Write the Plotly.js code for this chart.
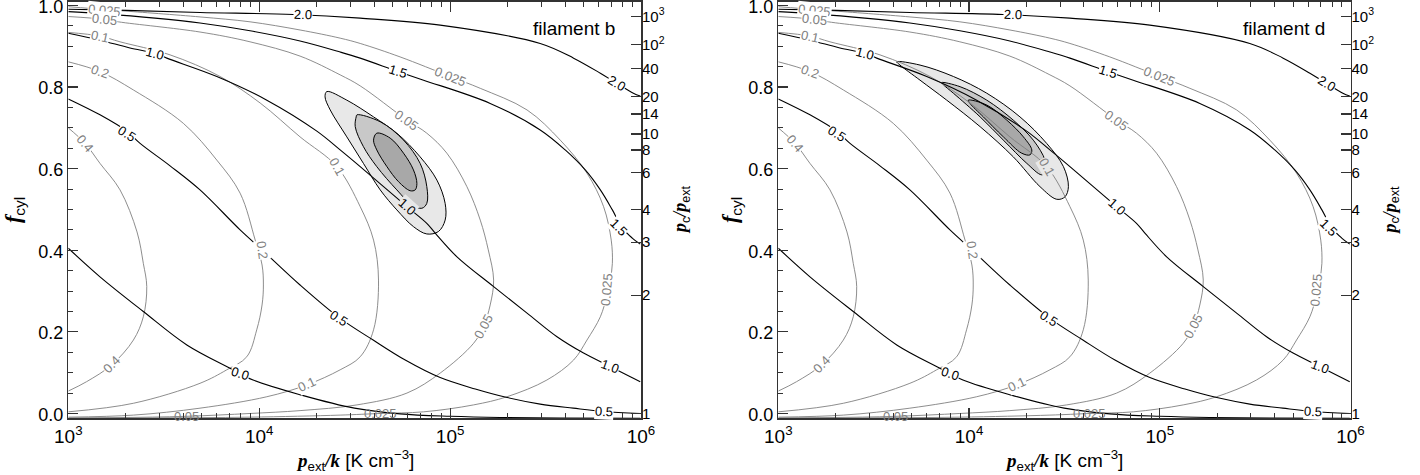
<!DOCTYPE html>
<html><head><meta charset="utf-8">
<script src="https://cdn.plot.ly/plotly-3.0.1.min.js"></script>
<style>html,body{margin:0;padding:0;background:#fff}</style>
</head><body>
<div id="chart" style="width:1420px;height:475px"></div>
<script>
// ---- contour lines (x = log10 p_ext/k, y = f_cyl) ----
const b00X = [3.000,3.166,3.393,3.621,3.847,3.968,4.222,4.499,4.738,5.000,5.263,5.577,5.996];
const b00F = [0.405,0.335,0.250,0.168,0.111,0.082,0.045,0.013,-0.001,-0.007,-0.010,-0.011,-0.012];
const b05X = [3.000,3.166,3.306,3.376,3.533,3.690,3.900,4.015,4.214,4.424,4.597,4.765,4.948,5.132,5.299,5.472,5.645,5.802,5.996];
const b05F = [0.771,0.732,0.692,0.662,0.607,0.548,0.450,0.401,0.315,0.233,0.180,0.131,0.088,0.060,0.039,0.023,0.013,0.005,0.000];
const b10X = [3.000,3.166,3.323,3.454,3.516,3.778,4.040,4.302,4.424,4.529,4.774,4.878,4.922,5.036,5.228,5.403,5.560,5.699,5.839,5.944,5.996];
const b10F = [0.932,0.915,0.896,0.883,0.871,0.826,0.768,0.692,0.646,0.605,0.507,0.466,0.442,0.384,0.311,0.246,0.188,0.148,0.115,0.090,0.078];
const b15X = [3.000,3.166,3.454,3.690,3.952,4.214,4.424,4.529,4.728,4.861,5.210,5.472,5.603,5.708,5.787,5.850,5.902,5.954,5.996];
const b15F = [0.985,0.980,0.969,0.957,0.938,0.913,0.886,0.871,0.838,0.817,0.760,0.695,0.646,0.597,0.548,0.499,0.455,0.430,0.415];
const b20X = [3.000,3.306,3.690,4.178,4.529,4.948,5.472,5.647,5.787,5.874,5.960,5.996];
const b20F = [0.991,0.988,0.983,0.978,0.969,0.952,0.907,0.871,0.834,0.809,0.785,0.778];

const g025X = [3.000,3.192,3.280,3.690,3.952,4.214,4.424,4.529,4.738,5.000,5.158,5.403,5.577,5.717,5.804,5.844,5.850,5.839,5.822,5.787,5.717,5.647,5.507,5.298,5.123,4.861,4.634,4.424,3.952,3.428,3.000];
const g025F = [0.997,0.990,0.987,0.972,0.960,0.940,0.920,0.907,0.874,0.826,0.797,0.744,0.670,0.589,0.507,0.425,0.368,0.327,0.290,0.237,0.180,0.131,0.082,0.041,0.021,0.004,0.000,-0.004,-0.009,-0.011,-0.012];
const g05X = [3.000,3.192,3.262,3.690,3.952,4.214,4.424,4.529,4.774,4.878,4.983,5.088,5.158,5.200,5.228,5.210,5.175,5.123,4.948,4.774,4.512,4.214,3.952,3.617,3.271,3.000];
const g05F = [0.973,0.966,0.960,0.935,0.911,0.876,0.830,0.803,0.719,0.687,0.638,0.556,0.474,0.401,0.327,0.266,0.213,0.172,0.099,0.050,0.021,0.007,0.000,-0.007,-0.010,-0.011];
const g01X = [3.000,3.166,3.271,3.533,3.795,4.005,4.214,4.407,4.529,4.599,4.625,4.599,4.529,4.424,4.249,4.040,3.690,3.341,3.000];
const g01F = [0.934,0.925,0.911,0.879,0.826,0.761,0.678,0.605,0.507,0.425,0.327,0.205,0.139,0.107,0.070,0.041,0.013,-0.004,-0.009];
const g02X = [3.000,3.166,3.341,3.603,3.778,3.900,3.979,4.015,4.022,4.015,3.987,3.935,3.830,3.690,3.341,3.000];
const g02F = [0.862,0.838,0.793,0.711,0.621,0.540,0.425,0.364,0.315,0.266,0.205,0.139,0.107,0.074,0.025,0.004];
const g04X = [3.000,3.088,3.166,3.271,3.360,3.393,3.411,3.393,3.341,3.227,3.096,3.000];
const g04F = [0.700,0.662,0.613,0.548,0.445,0.368,0.311,0.237,0.180,0.119,0.078,0.055];

// ---- confidence regions, filament b ----
const bOutX = [4.354,4.459,4.599,4.721,4.843,4.931,4.974,4.974,4.939,4.878,4.808,4.721,4.634,4.546,4.459,4.372,4.345];
const bOutF = [0.789,0.768,0.727,0.687,0.629,0.572,0.515,0.474,0.446,0.440,0.458,0.499,0.548,0.613,0.678,0.744,0.776];
const bMidX = [4.512,4.634,4.756,4.843,4.878,4.878,4.852,4.800,4.721,4.616,4.546,4.503,4.508];
const bMidF = [0.732,0.715,0.670,0.613,0.556,0.515,0.503,0.511,0.548,0.605,0.654,0.703,0.727];
const bInX = [4.616,4.686,4.756,4.808,4.826,4.817,4.791,4.730,4.669,4.616,4.599];
const bInF = [0.687,0.675,0.638,0.597,0.564,0.548,0.546,0.568,0.605,0.646,0.670];
// ---- confidence regions, filament d ----
const dOutX = [3.621,3.743,3.918,4.093,4.267,4.407,4.495,4.521,4.503,4.460,4.372,4.232,4.058,3.883,3.743,3.638];
const dOutF = [0.862,0.854,0.826,0.785,0.727,0.662,0.605,0.556,0.531,0.525,0.556,0.629,0.703,0.768,0.817,0.854];
const dMidX = [3.857,3.953,4.093,4.232,4.337,4.399,4.407,4.381,4.303,4.180,4.058,3.918,3.865];
const dMidF = [0.811,0.801,0.768,0.719,0.670,0.621,0.593,0.585,0.613,0.670,0.727,0.785,0.806];
const dInX = [3.996,4.093,4.198,4.285,4.329,4.320,4.276,4.180,4.075,4.005];
const dInF = [0.768,0.756,0.719,0.678,0.646,0.634,0.638,0.678,0.727,0.760];

// ---- contour labels ----
const labelText  = ['2.0','2.0','1.5','1.5','1.0','1.0','1.0','0.5','0.5','0.5','0.0','0.0',
                    '0.025','0.025','0.025','0.025','0.05','0.05','0.05','0.05','0.1','0.1','0.1','0.2','0.2','0.4','0.4'];
const labelX     = [4.230,5.876,4.728,5.886,3.454,4.774,5.839,3.306,4.419,5.804,3.900,5.593,
                    3.192,5.000,5.822,4.634,3.192,4.774,5.175,3.617,3.166,4.407,4.249,3.166,4.014,3.088,3.227];
const labelF     = [0.977,0.810,0.838,0.457,0.883,0.507,0.115,0.687,0.234,0.004,0.097,-0.012,
                    0.987,0.826,0.303,0.000,0.966,0.719,0.213,-0.007,0.925,0.605,0.070,0.838,0.401,0.662,0.119];
const labelAngle = [2,31,17,45,15,42,20,32,32,3,18,0,
                    6,22,-85,0,6,36,-62,0,12,60,-25,20,82,50,-45];
const labelBlack = 12; // first 12 labels are black-line labels

// ---- axes ----
const xTickVals = [1e3,1e4,1e5,1e6];
const xTickText = ['10<sup>3</sup>','10<sup>4</sup>','10<sup>5</sup>','10<sup>6</sup>'];
const xMinor = [2e3,3e3,4e3,5e3,6e3,7e3,8e3,9e3,2e4,3e4,4e4,5e4,6e4,7e4,8e4,9e4,2e5,3e5,4e5,5e5,6e5,7e5,8e5,9e5];
const yTickVals = [0,0.2,0.4,0.6,0.8,1.0];
const yTickText = ['0.0','0.2','0.4','0.6','0.8','1.0'];
const ratioText = ['1','2','3','4','6','8','10','14','20','40','10<sup>2</sup>','10<sup>3</sup>'];
const ratioPos  = [0,0.290,0.420,0.499,0.591,0.646,0.685,0.734,0.777,0.845,0.904,0.973];
const panelNames = ['filament b','filament d'];

const SANS = 'Liberation Sans, Arial, sans-serif';
const SERIF = 'Liberation Serif, Times New Roman, serif';
const BLACK = '#000000', GRAY = '#808080';
const FILLS = ['#e8e8e8','#c8c8c8','#a8a8a8'];
const YR = [-0.0118, 1.0086];

const lines = [
  [g025X,g025F,GRAY],[g05X,g05F,GRAY],[g01X,g01F,GRAY],[g02X,g02F,GRAY],[g04X,g04F,GRAY],
  [b00X,b00F,BLACK],[b05X,b05F,BLACK],[b10X,b10F,BLACK],[b15X,b15F,BLACK],[b20X,b20F,BLACK]
];
const regions = [
  [[bOutX,bOutF],[bMidX,bMidF],[bInX,bInF]],
  [[dOutX,dOutF],[dMidX,dMidF],[dInX,dInF]]
];

const traces = [];
const annotations = [];
const layout = {
  width:1420, height:475, margin:{l:0,r:0,t:0,b:0},
  paper_bgcolor:'#fff', plot_bgcolor:'#fff', showlegend:false,
  font:{family:SANS, size:19, color:'#000'}
};

const panels = [
  {xa:'x', ya:'y', ya2:'y2', xk:'xaxis', yk:'yaxis', y2k:'yaxis2', dom:[0.04810,0.45141], leftT:14, px0:68.3, px1:641},
  {xa:'x2', ya:'y3', ya2:'y4', xk:'xaxis2', yk:'yaxis3', y2k:'yaxis4', dom:[0.54810,0.95106], leftT:731, px0:778.3, px1:1350.5}
];
const ydom = [0.1194, 0.9958];

panels.forEach((p, pi) => {
  regions[pi].forEach((r, ri) => {
    const xs = r[0].map(v => Math.pow(10, v));
    xs.push(xs[0]);
    const ys = r[1].slice(); ys.push(ys[0]);
    traces.push({x:xs, y:ys, xaxis:p.xa, yaxis:p.ya, mode:'lines', fill:'toself',
      fillcolor:FILLS[ri], line:{color:'#000', width:1, shape:'spline', smoothing:1},
      hoverinfo:'skip'});
  });
  lines.forEach(l => {
    traces.push({x:l[0].map(v => Math.pow(10, v)), y:l[1], xaxis:p.xa, yaxis:p.ya,
      mode:'lines', line:{color:l[2], width:l[2]===BLACK?1.1:0.9, shape:'spline', smoothing:1},
      hoverinfo:'skip'});
  });
  traces.push({x:[null], y:[null], xaxis:p.xa, yaxis:p.ya2, mode:'markers', hoverinfo:'skip'});

  layout[p.xk] = {
    type:'log', range:[3,6], domain:p.dom, anchor:p.ya,
    tickmode:'array', tickvals:xTickVals, ticktext:xTickText,
    ticks:'inside', ticklen:10, tickwidth:1.2, tickcolor:'#333',
    minor:{tickmode:'array', tickvals:xMinor, ticks:'inside', ticklen:5, tickwidth:1, tickcolor:'#333', showgrid:false},
    showline:true, linecolor:'#333', linewidth:1.5, mirror:'ticks',
    showgrid:false, zeroline:false, ticklabeloverflow:'allow',
    tickfont:{size:19, family:SANS, color:'#000'}
  };
  layout[p.yk] = {
    range:YR, domain:ydom, anchor:p.xa,
    tickmode:'array', tickvals:yTickVals, ticktext:yTickText,
    ticks:'inside', ticklen:10, tickwidth:1.2, tickcolor:'#333',
    minor:{dtick:0.05, tick0:0, ticks:'inside', ticklen:5, tickwidth:1, tickcolor:'#333', showgrid:false},
    showline:true, linecolor:'#333', linewidth:1.5, mirror:true,
    showgrid:false, zeroline:false, ticklabeloverflow:'allow', ticklabelshift:1,
    tickfont:{size:18, family:SANS, color:'#000'}
  };
  layout[p.y2k] = {
    range:YR, overlaying:p.ya, side:'right', anchor:p.xa,
    tickmode:'array', tickvals:ratioPos, ticktext:ratioText,
    ticks:'inside', ticklen:10, tickwidth:1.2, tickcolor:'#333',
    showline:false, showgrid:false, zeroline:false, ticklabeloverflow:'allow',
    tickfont:{size:15, family:SANS, color:'#000'}
  };

  labelText.forEach((t, i) => {
    const isBlack = i < labelBlack;
    const atBottom = labelF[i] <= 0.001 && labelAngle[i] === 0;
    let bg = 'rgba(255,255,255,1)';
    if (atBottom) bg = 'rgba(0,0,0,0)';
    if (pi === 0 && i === 5) bg = FILLS[0];
    if (pi === 1 && i === 21) bg = FILLS[0];
    annotations.push({xref:p.xa, yref:p.ya, x:labelX[i], y:labelF[i], text:t,
      showarrow:false, textangle:labelAngle[i], bgcolor:bg, borderpad:0,
      font:{family:SANS, size:13, color:isBlack?BLACK:GRAY}});
  });

  annotations.push({xref:'paper', yref:'paper', x:(p.px1-24)/1420, y:1-28.5/475, xanchor:'right', yanchor:'middle',
    text:panelNames[pi], showarrow:false, font:{family:SANS, size:19, color:'#000'}});
  annotations.push({xref:'paper', yref:'paper', x:p.leftT/1420, y:1-210/475, xanchor:'center', yanchor:'middle',
    textangle:-90, showarrow:false,
    text:'<b><i>f</i></b><sub><span style="font-family:Liberation Sans">cyl</span></sub>',
    font:{family:SERIF, size:22, color:'#000'}});
  annotations.push({xref:'paper', yref:'paper', x:(p.px1+40)/1420, y:1-210/475, xanchor:'center', yanchor:'middle',
    textangle:-90, showarrow:false,
    text:'<b><i>p</i></b><sub><span style="font-family:Liberation Sans">c</span></sub><b><i>/p</i></b><sub><span style="font-family:Liberation Sans">ext</span></sub>',
    font:{family:SERIF, size:18, color:'#000'}});
  annotations.push({xref:'paper', yref:'paper', x:((p.px0+p.px1)/2)/1420, y:1-460/475, xanchor:'center', yanchor:'middle',
    showarrow:false,
    text:'<b><i>p</i></b><sub><span style="font-family:Liberation Sans">ext</span></sub><b><i>/k</i></b><span style="font-family:Liberation Sans"> [K cm<sup>−3</sup>]</span>',
    font:{family:SERIF, size:19, color:'#000'}});
});

layout.annotations = annotations;
Plotly.newPlot('chart', traces, layout, {staticPlot:true, displayModeBar:false});
</script>
</body></html>
